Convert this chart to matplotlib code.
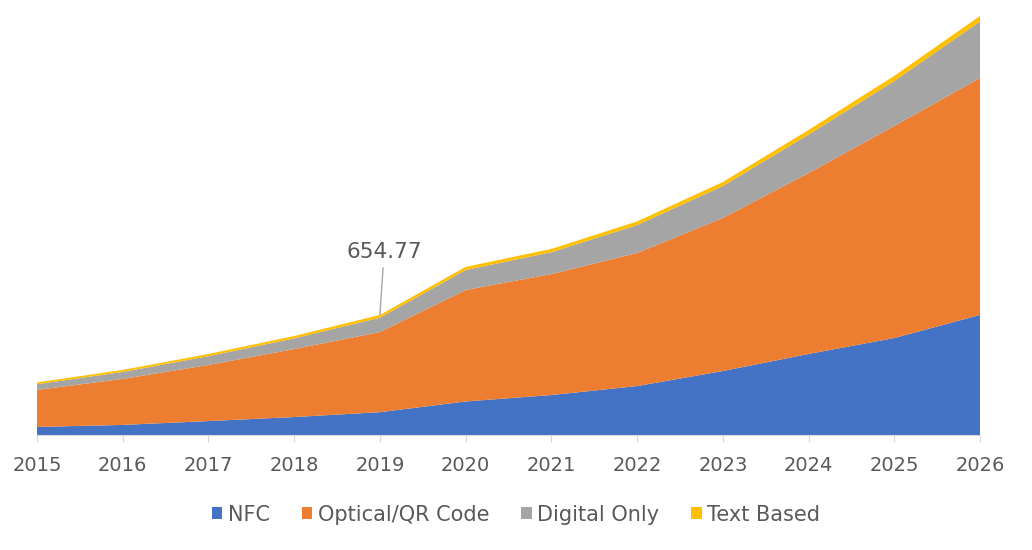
import matplotlib.pyplot as plt
from matplotlib.patches import Patch

years = [2015, 2016, 2017, 2018, 2019, 2020, 2021, 2022, 2023, 2024, 2025, 2026]
nfc = [44, 55, 76, 98, 124.5, 183, 218, 267, 349, 442, 529, 655]
optical_qr = [202, 251, 306, 371, 437.2, 608, 660, 726, 835, 987, 1157, 1293]
digital_only = [31, 38, 48, 58, 77.9, 109, 119, 152, 174, 210, 245, 308]
text_based = [10, 11, 12, 13, 15.17, 17, 18, 20, 22, 25, 28, 30]
series_names = ['NFC', 'Optical/QR Code', 'Digital Only', 'Text Based']
colors = ['#4472C4', '#ED7D31', '#A5A5A5', '#FFC000']
label_year = 2019
label_value = 654.77

fig = plt.figure(figsize=(10.32, 5.5), dpi=100)
ax = fig.add_axes([37 / 1032, 115 / 550, (980 - 37) / 1032, 435 / 550])

ax.stackplot(years, nfc, optical_qr, digital_only, text_based,
             colors=colors, linewidth=0)

ax.set_xlim(years[0], years[-1])
ax.set_ylim(0, 2373)
ax.set_xticks(years)
ax.set_xticklabels([str(y) for y in years])
ax.set_yticks([])

for s in ['top', 'right', 'left']:
    ax.spines[s].set_visible(False)
ax.spines['bottom'].set_color('#d9d9d9')
ax.tick_params(axis='x', colors='#d9d9d9', length=5, labelsize=14,
               labelcolor='#595959', pad=10)

ax.annotate('%.2f' % label_value, xy=(label_year, label_value),
            xytext=(3, 38), textcoords='offset points', ha='center',
            va='bottom', fontsize=15.5, color='#595959',
            arrowprops=dict(arrowstyle='-', color='#a6a6a6', lw=1,
                            shrinkA=2, shrinkB=0))

handles = [Patch(facecolor=c, edgecolor='none') for c in colors]
fig.legend(handles, series_names, loc='center', bbox_to_anchor=(0.5, 0.064),
           ncol=4, frameon=False, fontsize=15, handlelength=0.5,
           handleheight=0.5, handletextpad=0.25, columnspacing=1.55,
           labelcolor='#595959')

fig.savefig('out.png', dpi=100)
